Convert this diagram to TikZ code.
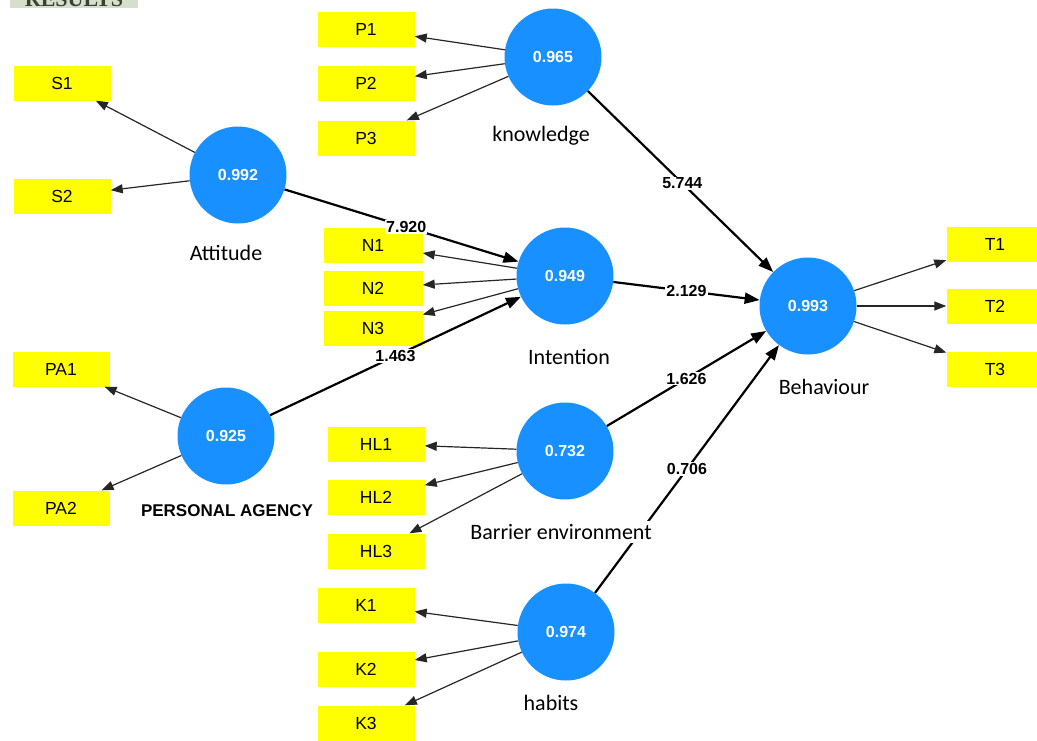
\documentclass[tikz,border=0pt]{standalone}
\usepackage{fontspec}
\setmainfont{Liberation Sans}
\newfontfamily\calibri{Carlito}
\newfontfamily\headserif{Liberation Serif}
\usepackage{tikz}
\usetikzlibrary{arrows.meta}
\definecolor{latblue}{RGB}{24,144,255}
\definecolor{indyellow}{RGB}{255,255,0}
\definecolor{headfill}{RGB}{214,222,204}
\definecolor{headtext}{RGB}{58,66,52}

\begin{document}
\begin{tikzpicture}[x=1pt,y=-1pt]
\tikzset{lat/.style={circle,fill=latblue,minimum size=97pt,inner sep=0pt,text=white,font=\bfseries\fontsize{16}{18}\selectfont}}
\tikzset{ind/.style={rectangle,fill=indyellow,minimum width=97pt,minimum height=35pt,inner sep=0pt,font=\fontsize{17.5}{20}\selectfont}}
\tikzset{lname/.style={fill=white,inner sep=3pt,font=\calibri\fontsize{22}{26}\selectfont}}
\tikzset{meas/.style={draw=black!85,line width=1.2pt,-{Triangle[length=12pt,width=9pt]}}}
\tikzset{struct/.style={draw=black,line width=2.2pt,-{Triangle[length=15pt,width=11pt]}}}
\tikzset{coef/.style={fill=white,inner sep=1pt,font=\bfseries\fontsize{16}{18}\selectfont}}
\useasboundingbox (0,0) rectangle (1037,740);
% cut-off heading
\begin{scope}
 \clip (10,0) rectangle (138,8);
 \fill[headfill] (10,0) rectangle (138,8);
 \node[anchor=base,text=headtext,inner sep=0pt,font=\headserif\bfseries\fontsize{22}{22}\selectfont] (res) at (74,6) {RESULTS};
\end{scope}
% latent variables
\node[lat] (kno) at (553,57) {0.965};
\node[lat] (att) at (238,175) {0.992};
\node[lat] (int) at (565,276) {0.949};
\node[lat] (beh) at (808,306) {0.993};
\node[lat] (per) at (226,436) {0.925};
\node[lat] (bar) at (565,451) {0.732};
\node[lat] (hab) at (566,632) {0.974};
% indicators
\node[ind] (p1) at (366,29) {P1};
\node[ind] (p2) at (366,83) {P2};
\node[ind] (p3) at (366,138) {P3};
\node[ind] (s1) at (62,83) {S1};
\node[ind] (s2) at (62,196) {S2};
\node[ind,minimum width=99pt] (n1) at (373,245) {N1};
\node[ind,minimum width=99pt] (n2) at (373,288) {N2};
\node[ind,minimum width=99pt] (n3) at (373,328) {N3};
\node[ind] (pa1) at (61,369) {PA1};
\node[ind] (pa2) at (61,508) {PA2};
\node[ind] (hl1) at (376,444) {HL1};
\node[ind] (hl2) at (376,497) {HL2};
\node[ind] (hl3) at (376,551) {HL3};
\node[ind] (k1) at (366,605) {K1};
\node[ind] (k2) at (366,669) {K2};
\node[ind] (k3) at (366,723) {K3};
\node[ind] (t1) at (995,244) {T1};
\node[ind] (t2) at (995,306) {T2};
\node[ind] (t3) at (995,369) {T3};
% outer loadings
\draw[meas] (kno) -- (p1);
\draw[meas] (kno) -- (p2);
\draw[meas] (kno) -- (p3);
\draw[meas] (att) -- (s1);
\draw[meas] (att) -- (s2);
\draw[meas] (int) -- (n1);
\draw[meas] (int) -- (n2);
\draw[meas] (int) -- (n3);
\draw[meas] (per) -- (pa1);
\draw[meas] (per) -- (pa2);
\draw[meas] (bar) -- (hl1);
\draw[meas] (bar) -- (hl2);
\draw[meas] (bar) -- (hl3);
\draw[meas] (hab) -- (k1);
\draw[meas] (hab) -- (k2);
\draw[meas] (hab) -- (k3);
\draw[meas] (beh) -- (t1);
\draw[meas] (beh) -- (t2);
\draw[meas] (beh) -- (t3);
% inner paths
\draw[struct] (att) -- node[coef,pos=0.52] {7.920} (int);
\draw[struct] (per) -- node[coef,pos=0.5] {1.463} (int);
\draw[struct] (kno) -- node[coef,pos=0.51] {5.744} (beh);
\draw[struct] (int) -- node[coef,pos=0.5] {2.129} (beh);
\draw[struct] (bar) -- node[coef,pos=0.5] {1.626} (beh);
\draw[struct] (hab) -- node[coef,pos=0.5] {0.706} (beh);
% construct names
\node[lname] (knolab) at (541,136) {knowledge};
\node[lname] (attlab) at (226,253) {Attitude};
\node[lname] (intlab) at (569,357) {Intention};
\node[lname] (behlab) at (824,387) {Behaviour};
\node[lname] (barlab) at (561,532) {Barrier environment};
\node[lname] (hablab) at (551,703) {habits};
\node[lname,font=\bfseries\fontsize{17}{20}\selectfont] (perlab) at (227,511) {PERSONAL AGENCY};
\end{tikzpicture}
\end{document}
